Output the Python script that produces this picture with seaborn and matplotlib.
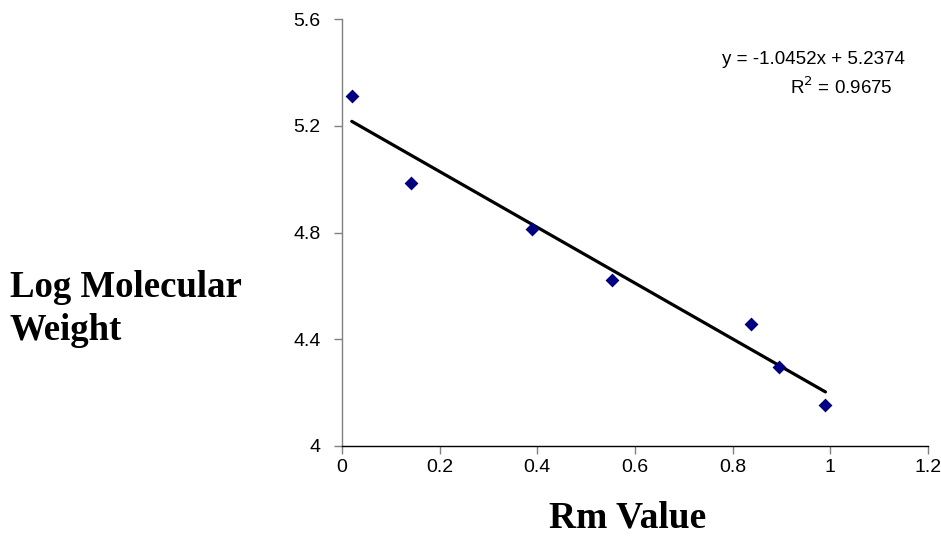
import matplotlib
matplotlib.use("Agg")
import matplotlib.pyplot as plt
import seaborn as sns
import numpy as np
import pandas as pd

rm_value = [0.02, 0.141, 0.389, 0.553, 0.838, 0.895, 0.99]
log_mw = [5.311, 4.986, 4.813, 4.622, 4.457, 4.296, 4.154]
slope = -1.0452
intercept = 5.2374
r_squared = 0.9675
x_ticks = [0, 0.2, 0.4, 0.6, 0.8, 1, 1.2]
x_tick_labels = ["0", "0.2", "0.4", "0.6", "0.8", "1", "1.2"]
y_ticks = [4, 4.4, 4.8, 5.2, 5.6]
y_tick_labels = ["4", "4.4", "4.8", "5.2", "5.6"]

sns.set_theme(style="white")
plt.rcParams['font.family'] = ['Liberation Sans', 'DejaVu Sans']
plt.rcParams['text.color'] = 'black'

fig = plt.figure(figsize=(9.41, 5.36), dpi=100)
ax = fig.add_axes([342/941, 1 - 446/536, (928 - 342)/941, (446 - 19)/536])

df = pd.DataFrame({"x": rm_value, "y": log_mw})
fit_x = [min(rm_value), max(rm_value)]
fit_df = pd.DataFrame({"x": fit_x, "y": [slope * v + intercept for v in fit_x]})
sns.lineplot(data=fit_df, x="x", y="y", ax=ax, color="black", linewidth=2.3)
sns.scatterplot(data=df, x="x", y="y", ax=ax, marker="D", s=50, color="#000080",
                edgecolor="#000080", linewidth=0, zorder=3)

ax.set_xlim(0, 1.2)
ax.set_ylim(4, 5.6)
ax.set_xticks(x_ticks)
ax.set_xticklabels(x_tick_labels)
ax.set_yticks(y_ticks)
ax.set_yticklabels(y_tick_labels)
ax.tick_params(axis="both", bottom=True, left=True, labelsize=14, length=5.5,
               width=1, direction="out", labelcolor="black")
ax.tick_params(axis="y", color="#808080", pad=10)
ax.tick_params(axis="x", color="#808080", pad=4)
for s in ["top", "right"]:
    ax.spines[s].set_visible(False)
ax.spines["left"].set_color("#808080")
ax.spines["bottom"].set_color("black")
ax.spines["left"].set_linewidth(1)
ax.spines["bottom"].set_linewidth(1)
ax.set_xlabel("")
ax.set_ylabel("")

fig.text(628/941, 1 - 518/536, "Rm Value", ha="center", va="center",
         family="Liberation Serif", fontweight="bold", fontsize=27, color="black")
fig.text(10/941, 1 - 309/536, "Log Molecular\nWeight", ha="left", va="center",
         family="Liberation Serif", fontweight="bold", fontsize=26.5, linespacing=1.3,
         color="black")

fig.text(905/941, 1 - 60/536, f"y = {slope}x + {intercept}", ha="right", va="center",
         fontsize=13.5, color="black")
fig.text(841/941, 1 - 87/536, f"R$^2$ = {r_squared}", ha="center", va="center",
         fontsize=13.5, color="black")

fig.savefig("out.png", dpi=100)
